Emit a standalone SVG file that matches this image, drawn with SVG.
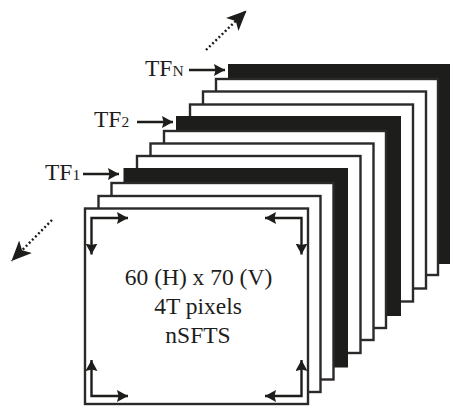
<svg xmlns="http://www.w3.org/2000/svg" width="450" height="406" viewBox="0 0 450 406">
<style>
.f{fill:#fff;stroke:#2b2a29;stroke-width:2.4}
.b{fill:#1d1d1b;stroke:none}
.a{fill:none;stroke:#1d1d1b;stroke-width:2.4}
.d{fill:none;stroke:#1d1d1b;stroke-width:2.4;stroke-dasharray:2 2.4}
text{font-family:"Liberation Serif","Times New Roman",serif;fill:#1d1d1b}
.t{font-size:23.500px;text-anchor:middle}
.l{font-size:23.500px}
.s{font-size:15.500px}
</style>
<defs>
<marker id="h" markerUnits="userSpaceOnUse" markerWidth="12" markerHeight="13" refX="11" refY="6" orient="auto-start-reverse"><path d="M0 0L11 6L0 12L1.500 6Z" fill="#1d1d1b" stroke="none"/></marker>
<marker id="k" markerUnits="userSpaceOnUse" markerWidth="22" markerHeight="20" refX="20" refY="9" orient="auto"><path d="M0 0L20 9L0 18L5 9Z" fill="#1d1d1b"/></marker>
</defs>
<g id="frame-n"><rect class="b" x="228" y="64" width="224" height="200"/></g>
<g id="frame-9"><rect class="f" x="216" y="79" width="222" height="196"/></g>
<g id="frame-8"><rect class="f" x="203" y="91.500" width="223" height="197"/></g>
<g id="frame-7"><rect class="f" x="190" y="104.500" width="223" height="197"/></g>
<g id="frame-tf2"><rect class="b" x="176" y="116" width="225" height="200"/></g>
<g id="frame-6"><rect class="f" x="164" y="131" width="222" height="197"/></g>
<g id="frame-5"><rect class="f" x="150.500" y="143.500" width="223" height="196.500"/></g>
<g id="frame-4"><rect class="f" x="137" y="156" width="223.500" height="197"/></g>
<g id="frame-tf1"><rect class="b" x="123.500" y="168" width="224.500" height="199.500"/></g>
<g id="frame-3"><rect class="f" x="111.500" y="183" width="222" height="196.500"/></g>
<g id="frame-2"><rect class="f" x="98.500" y="196" width="222" height="196"/></g>
<g id="frame-1"><rect class="f" x="85" y="208.500" width="223" height="195.500"/>
<text class="t" x="198.500" y="285">60 (H) x 70 (V)</text>
<text class="t" x="198" y="314">4T pixels</text>
<text class="t" x="198" y="343">nSFTS</text></g>
<g id="label-tfn"><text class="l" x="145" y="76">TF<tspan class="s">N</tspan></text></g>
<g id="label-tf2"><text class="l" x="94" y="127">TF<tspan class="s">2</tspan></text></g>
<g id="label-tf1"><text class="l" x="45" y="180">TF<tspan class="s">1</tspan></text></g>
<g id="connectors">
<path class="a" marker-end="url(#h)" d="M189 70H225"/>
<path class="a" marker-end="url(#h)" d="M137 122H173"/>
<path class="a" marker-end="url(#h)" d="M83 174H119"/>
<path class="d" marker-end="url(#k)" d="M206 50L246.500 10.500"/>
<path class="d" marker-end="url(#k)" d="M52 220L11.500 261"/>
<path class="a" marker-start="url(#h)" marker-end="url(#h)" d="M91.500 254.500V218H128"/>
<path class="a" marker-start="url(#h)" marker-end="url(#h)" d="M91.500 360V396H128"/>
<path class="a" marker-start="url(#h)" marker-end="url(#h)" d="M301.500 254.500V218H265"/>
<path class="a" marker-start="url(#h)" marker-end="url(#h)" d="M301.500 360V396H265"/>
</g>
</svg>
